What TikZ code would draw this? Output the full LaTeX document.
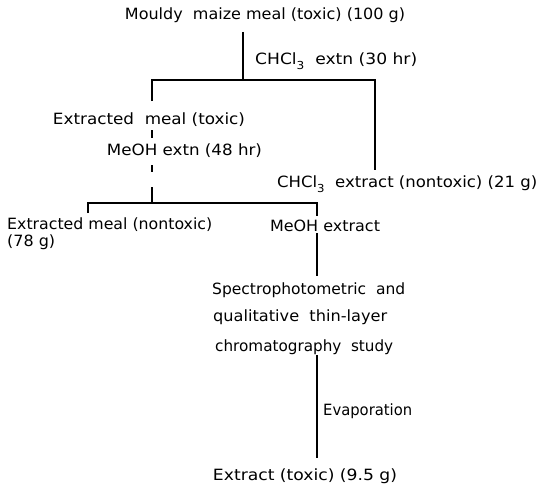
\documentclass[tikz,border=0pt]{standalone}
\usepackage{fontspec}
\usepackage{graphicx}
\setmainfont{DejaVu Sans}
\newcommand{\subthree}{\raisebox{-0.6ex}{\fontsize{11}{11}\selectfont 3}}
\newcommand{\fw}[2]{\resizebox{#1pt}{\height}{#2}}
\begin{document}
\begin{tikzpicture}[x=1pt,y=-1pt,
  lbl/.style={inner sep=0pt,font=\fontsize{15.5}{17}\selectfont},
  ln/.style={line width=1.2pt,black}]
\useasboundingbox (0,0) rectangle (538,487);
\node[lbl] (title) at (265,15) {\fw{280}{Mouldy\ \ maize meal (toxic) (100 g)}};
\node[lbl,anchor=west] (chextn) at (255,61) {\fw{162}{CHCl\subthree\ \ extn (30 hr)}};
\node[lbl] (exmeal) at (149,120) {\fw{192}{Extracted\ \ meal (toxic)}};
\node[lbl] (meohextn) at (184.5,151) {\fw{155}{MeOH extn (48 hr)}};
\node[lbl,anchor=west] (chextract) at (277,184) {\fw{260}{CHCl\subthree\ \ extract (nontoxic) (21 g)}};
\node[lbl,anchor=west,align=left] (nontox) at (7,234) {\fw{205}{Extracted meal (nontoxic)}\\[0pt]\fw{48}{(78 g)}};
\node[lbl] (meohext) at (325,226) {\fw{110}{MeOH extract}};
\node[lbl,anchor=west,align=left] (spectro) at (212,319) {\fw{193}{Spectrophotometric\ \ and}\\[10pt]\hspace{1pt}\fw{174}{qualitative\ \ thin-layer}\\[13pt]\hspace{3pt}\fw{178}{chromatography\ \ study}};
\node[lbl,anchor=west] (evap) at (323,411) {\fw{89}{Evaporation}};
\node[lbl] (final) at (305,476) {\fw{184}{Extract (toxic) (9.5 g)}};
% junctions and line ends
\coordinate (s1) at (243,32);
\coordinate (j1) at (243,80);
\coordinate (jl1) at (152,80);
\coordinate (jr1) at (375,80);
\coordinate (el) at (152,101);
\coordinate (er) at (375,170);
\coordinate (d1a) at (152,130);
\coordinate (d1b) at (152,138);
\coordinate (d2a) at (152,165);
\coordinate (d2b) at (152,172);
\coordinate (d3a) at (152,187);
\coordinate (j2) at (152,203);
\coordinate (jl2) at (88,203);
\coordinate (jr2) at (317,203);
\coordinate (el2) at (88,213);
\coordinate (er2) at (317,216);
\coordinate (m1) at (317,233);
\coordinate (m2) at (317,276);
\coordinate (e1) at (317,355);
\coordinate (e2) at (317,458);
\draw[ln] (s1) -- (j1);
\draw[ln] (el) -- (jl1) -- (jr1) -- (er);
\draw[ln] (d1a) -- (d1b);
\draw[ln] (d2a) -- (d2b);
\draw[ln] (d3a) -- (j2);
\draw[ln] (el2) -- (jl2) -- (jr2) -- (er2);
\draw[ln] (m1) -- (m2);
\draw[ln] (e1) -- (e2);
\end{tikzpicture}
\end{document}
